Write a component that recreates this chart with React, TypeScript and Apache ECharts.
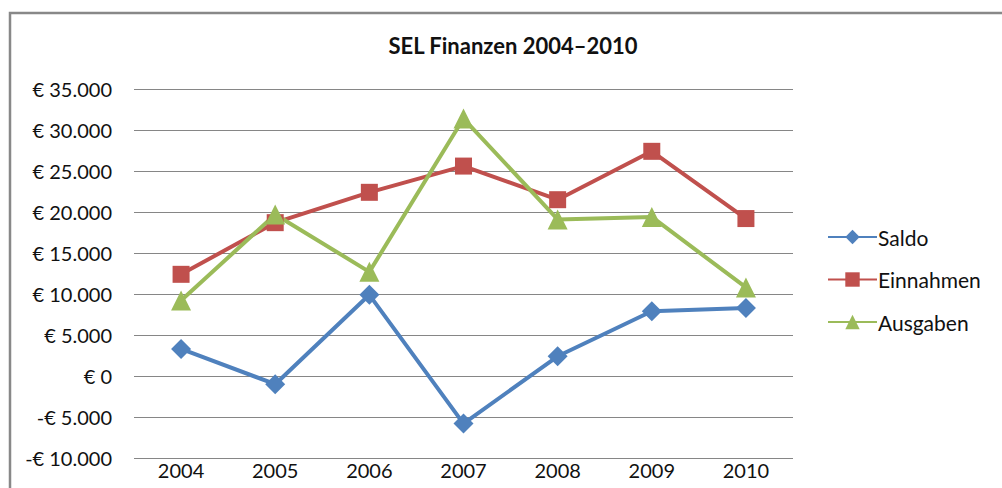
import React, { useEffect, useRef } from "react";
import * as echarts from "echarts";

const categories = ["2004", "2005", "2006", "2007", "2008", "2009", "2010"];
const saldo = [3300, -1000, 9900, -5800, 2400, 7900, 8300];
const einnahmen = [12400, 18700, 22400, 25600, 21500, 27400, 19200];
const ausgaben = [9200, 19700, 12700, 31400, 19100, 19400, 10800];
const seriesNames = ["Saldo", "Einnahmen", "Ausgaben"];
const titleText = "SEL Finanzen 2004–2010";

const FONT = "Lato";

function formatEuro(v: number): string {
  const abs = Math.abs(v);
  const s = abs.toString().replace(/\B(?=(\d{3})+(?!\d))/g, ".");
  return (v < 0 ? "-€ " : "€ ") + s;
}

export default function App() {
  const ref = useRef<HTMLDivElement>(null);
  useEffect(() => {
    const chart = echarts.init(ref.current!, null, { renderer: "svg" });
    const mk = (name: string, data: number[], color: string, symbol: string, size: number) => ({
      name,
      type: "line",
      data,
      symbol,
      symbolSize: size,
      lineStyle: { color, width: 4 },
      itemStyle: { color },
      emphasis: { disabled: true },
    });
    chart.setOption({
      animation: false,
      backgroundColor: "#ffffff",
      textStyle: { fontFamily: FONT },
      title: {
        text: titleText,
        left: 508,
        textAlign: "center",
        top: 29,
        textStyle: { fontFamily: FONT, fontSize: 22, fontWeight: "bold", color: "#111" },
      },
      graphic: [
        {
          type: "rect",
          shape: { x: 10, y: 13, width: 1100, height: 600 },
          style: { fill: "none", stroke: "#888888", lineWidth: 2.5 },
          silent: true,
        },
      ],
      legend: {
        orient: "vertical",
        left: 822,
        top: 221,
        itemWidth: 49,
        itemHeight: 18,
        itemGap: 20.5,
        data: seriesNames,
        textStyle: {
          fontFamily: FONT,
          fontSize: 21,
          lineHeight: 22,
          color: "#111",
          padding: [0, 0, 0, -4],
        },
      },
      grid: { left: 134, top: 89, width: 659, height: 369, containLabel: false },
      xAxis: {
        type: "category",
        data: categories,
        boundaryGap: true,
        axisLine: { show: false },
        axisTick: { show: false },
        axisLabel: { fontFamily: FONT, fontSize: 20, color: "#111", margin: 2 },
      },
      yAxis: {
        type: "value",
        min: -10000,
        max: 35000,
        interval: 5000,
        axisLine: { show: false },
        axisTick: { show: false },
        splitLine: { lineStyle: { color: "#868686", width: 1 } },
        axisLabel: {
          fontFamily: FONT,
          fontSize: 20,
          color: "#111",
          margin: 22,
          formatter: (v: number) => formatEuro(v),
        },
      },
      series: [
        mk("Saldo", saldo, "#4F81BD", "diamond", 20),
        mk("Einnahmen", einnahmen, "#C0504D", "rect", 17),
        mk("Ausgaben", ausgaben, "#9BBB59", "triangle", 20),
      ],
    });
    return () => chart.dispose();
  }, []);
  return (
    <div
      ref={ref}
      style={{ position: "fixed", left: 0, top: 0, width: 1002, height: 488 }}
    />
  );
}
